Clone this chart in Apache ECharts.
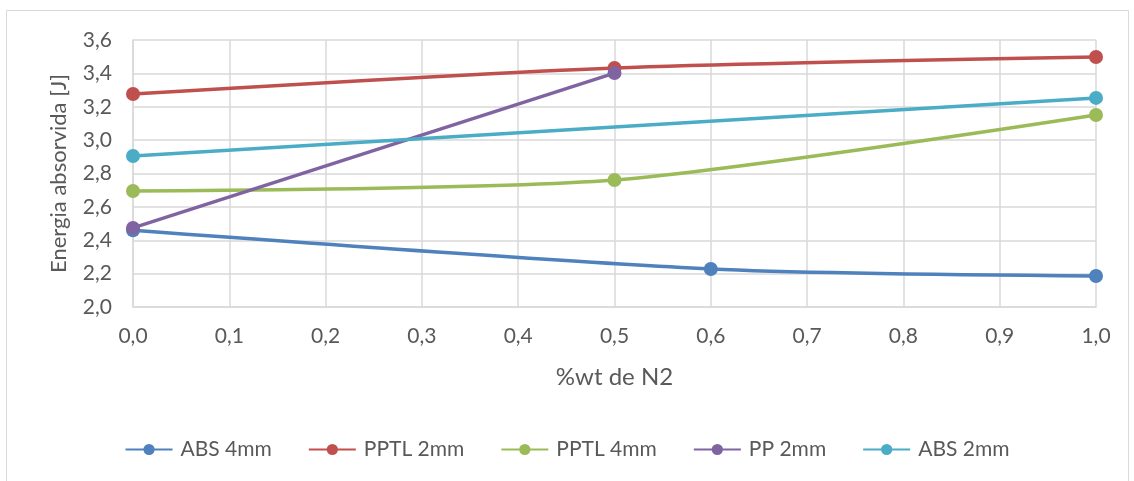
<!DOCTYPE html>
<html><head><meta charset="utf-8">
<script src="https://cdn.jsdelivr.net/npm/echarts@6/dist/echarts.min.js"></script>
<style>html,body{margin:0;padding:0;background:#fff}#c{width:1134px;height:481px}</style>
</head><body><div id="c"></div>
<script>
const seriesNames = ['ABS 4mm','PPTL 2mm','PPTL 4mm','PP 2mm','ABS 2mm'];
const colors = ['#4f81bd','#c0504d','#9bbb59','#8064a2','#4bacc6'];
const abs4mm = [[0,2.46],[0.6,2.228],[1.0,2.186]];
const pptl2mm = [[0,3.276],[0.5,3.432],[1.0,3.498]];
const pptl4mm = [[0,2.695],[0.5,2.761],[1.0,3.151]];
const pp2mm = [[0,2.474],[0.5,3.402]];
const abs2mm = [[0,2.905],[1.0,3.253]];
const seriesData = [abs4mm, pptl2mm, pptl4mm, pp2mm, abs2mm];
const font = 'Lato, "Noto Sans", sans-serif';
const chart = echarts.init(document.getElementById('c'));
chart.setOption({
  animation:false,
  color: colors,
  graphic:[{type:'rect',shape:{x:6.5,y:10.5,width:1122,height:480},style:{fill:'none',stroke:'#d9d9d9',lineWidth:1},silent:true}],
  grid:{left:133,right:38,top:40,bottom:174},
  legend:{top:434,left:'center',itemWidth:47,itemHeight:14,itemGap:36,
    textStyle:{fontFamily:font,fontSize:21,color:'#595959',padding:[0,0,0,3]},
    data:seriesNames},
  xAxis:{type:'value',min:0,max:1,interval:0.1,
    name:'%wt de N2',nameLocation:'middle',nameGap:58,
    nameTextStyle:{fontFamily:font,fontSize:24,color:'#595959'},
    axisLine:{show:true,lineStyle:{color:'#d9d9d9',width:1.5}},
    axisTick:{show:false},
    splitLine:{show:true,lineStyle:{color:'#d9d9d9',width:1.5}},
    axisLabel:{margin:19,fontFamily:font,fontSize:21,color:'#595959',formatter:v=>v.toFixed(1).replace('.',',')}},
  yAxis:{type:'value',min:2.0,max:3.6,interval:0.2,
    name:'Energia absorvida [J]',nameLocation:'middle',nameGap:63,
    nameTextStyle:{fontFamily:font,fontSize:22,color:'#595959'},
    axisLine:{show:true,lineStyle:{color:'#d9d9d9',width:1.5}},
    axisTick:{show:false},
    splitLine:{show:true,lineStyle:{color:'#d9d9d9',width:1.5}},
    axisLabel:{margin:21,fontFamily:font,fontSize:21,color:'#595959',formatter:v=>v.toFixed(1).replace('.',',')}},
  series: seriesNames.map((n,i)=>({
    name:n,type:'line',data:seriesData[i],smooth:0.25,
    symbol:'circle',symbolSize:14,
    lineStyle:{width:3.5,color:colors[i]},
    itemStyle:{color:colors[i]}
  }))
});
</script></body></html>
